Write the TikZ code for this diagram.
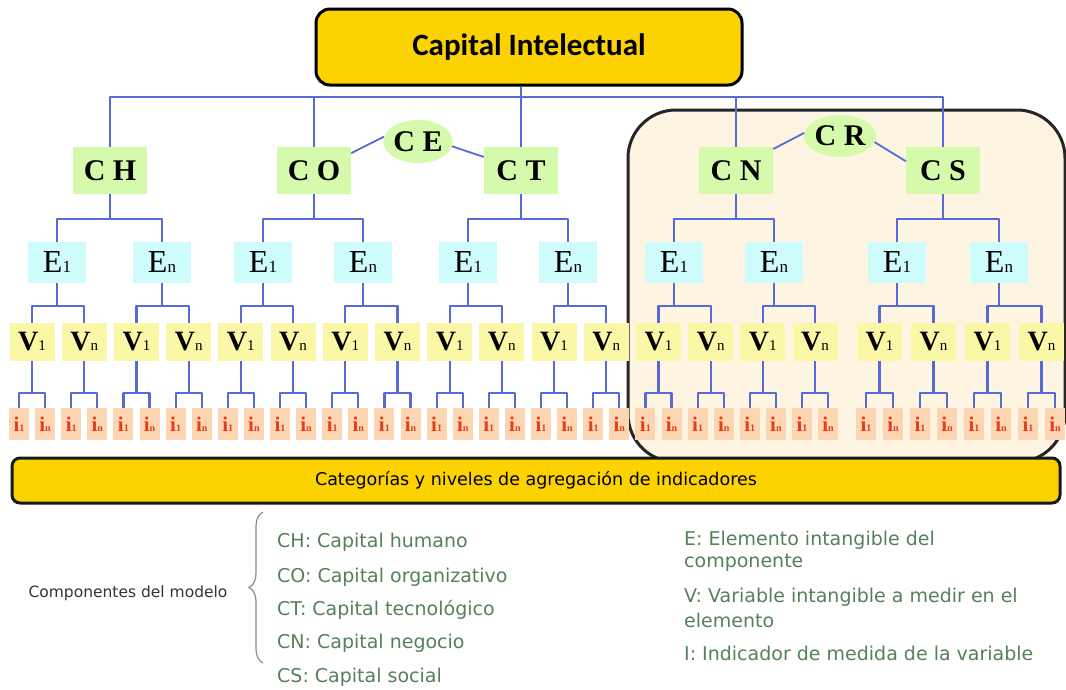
\documentclass[tikz,border=0pt]{standalone}
\usepackage{fontspec}
\setmainfont{Liberation Serif}
\newfontfamily\calfont{Carlito}
\newfontfamily\dvfont{DejaVu Sans}
\usetikzlibrary{shapes.geometric,decorations.pathreplacing,calc}
\definecolor{gold}{RGB}{252,210,0}
\definecolor{compgreen}{RGB}{213,250,172}
\definecolor{ecyan}{RGB}{206,252,252}
\definecolor{vyellow}{RGB}{250,248,166}
\definecolor{ipeach}{RGB}{252,214,178}
\definecolor{ired}{RGB}{232,60,30}
\definecolor{lineblue}{RGB}{88,106,214}
\definecolor{cream}{RGB}{253,245,226}
\definecolor{leggreen}{RGB}{84,128,90}
\newcommand{\mysubE}[1]{{\fontsize{17}{17}\selectfont\mdseries #1}}
\newcommand{\mysubV}[1]{{\fontsize{15}{15}\selectfont\mdseries #1}}
\newcommand{\mysubI}[1]{{\fontsize{10}{10}\selectfont #1}}
\begin{document}
\begin{tikzpicture}[x=1pt,y=-1pt,
  conn/.style={draw=lineblue,line width=2.2pt,line join=round},
  topbox/.style={draw=black,line width=3pt,fill=gold,rounded corners=14pt,minimum width=426pt,minimum height=76pt,inner sep=0pt,font=\calfont\bfseries\fontsize{31}{31}\selectfont},
  barbox/.style={draw=black!90,line width=3pt,fill=gold,rounded corners=8pt,minimum width=1048pt,minimum height=45pt,inner sep=0pt,font=\dvfont\fontsize{17.5}{17.5}\selectfont},
  compbox/.style={fill=compgreen,minimum width=74pt,minimum height=47pt,inner sep=0pt,font=\fontsize{30}{30}\selectfont\bfseries},
  ellnode/.style={ellipse,fill=compgreen,minimum width=63pt,minimum height=43pt,inner sep=0pt,font=\fontsize{30}{30}\selectfont\bfseries},
  ebox/.style={fill=ecyan,minimum width=58pt,minimum height=41pt,inner sep=0pt,font=\fontsize{32}{32}\selectfont},
  vbox/.style={fill=vyellow,minimum width=45pt,minimum height=38pt,inner sep=0pt,font=\fontsize{28}{28}\selectfont\bfseries},
  ibox/.style={fill=ipeach,minimum width=20pt,minimum height=32pt,inner sep=0pt,text=ired,font=\fontsize{21}{21}\selectfont\bfseries},
  legtext/.style={anchor=west,inner sep=0pt,text=leggreen,font=\dvfont\fontsize{19}{19}\selectfont}
]
\useasboundingbox (0,0) rectangle (1066,689);
% highlighted group
\draw[line width=3pt,draw=black!85,fill=cream,rounded corners=48pt] (628,110) rectangle (1065,462);

% top
\node[topbox] (top) at (529,47) {Capital Intelectual};

% components
\node[compbox] (CH) at (110,170.5) {C H};
\node[compbox] (CO) at (314,170.5) {C O};
\node[compbox] (CT) at (521,170.5) {C T};
\node[compbox] (CN) at (736,170.5) {C N};
\node[compbox] (CS) at (943,170.5) {C S};
\node[ellnode] (CE) at (418,141.5) {C E};
\node[ellnode,minimum width=67pt,minimum height=42pt] (CR) at (840,136) {C R};

% indicators
\foreach \k in {0,...,39}{
  \ifnum\k<32
    \pgfmathsetmacro{\ix}{19+26.1*\k}
  \else
    \pgfmathsetmacro{\ix}{866+27*(\k-32)}
  \fi
  \ifodd\k
    \node[ibox] (i\k) at (\ix,424) {i\mysubI{n}};
  \else
    \node[ibox] (i\k) at (\ix,424) {i\mysubI{1}};
  \fi
}
% variables
\foreach \j in {0,...,19}{
  \ifnum\j<16
    \pgfmathsetmacro{\vx}{32.05+52.2*\j}
  \else
    \pgfmathsetmacro{\vx}{879.5+54*(\j-16)}
  \fi
  \pgfmathtruncatemacro{\ia}{2*\j}
  \pgfmathtruncatemacro{\ib}{2*\j+1}
  \ifodd\j
    \node[vbox] (V\j) at (\vx,342) {V\mysubV{n}};
  \else
    \node[vbox] (V\j) at (\vx,342) {V\mysubV{1}};
  \fi
  \draw[conn] (V\j.south) -- ++(0,32) coordinate (vb\j);
  \draw[conn] (i\ia.north) |- (vb\j) -| (i\ib.north);
}
% elements
\foreach \m/\ex in {0/57,1/162,2/263,3/363,4/468,5/568,6/674,7/774,8/897,9/999}{
  \pgfmathtruncatemacro{\va}{2*\m}
  \pgfmathtruncatemacro{\vb}{2*\m+1}
  \ifodd\m
    \node[ebox] (E\m) at (\ex,262.5) {E\mysubE{n}};
  \else
    \node[ebox] (E\m) at (\ex,262.5) {E\mysubE{1}};
  \fi
  \draw[conn] (E\m.south) -- ++(0,23) coordinate (eb\m);
  \draw[conn] (V\va.north) |- (eb\m) -| (V\vb.north);
}
% component to elements
\foreach \c/\ea/\eb in {CH/0/1,CO/2/3,CT/4/5,CN/6/7,CS/8/9}{
  \draw[conn] (\c.south) -- ++(0,25) coordinate (cb\c);
  \draw[conn] (E\ea.north) |- (cb\c) -| (E\eb.north);
}
% bus
\draw[conn] (top.south -| CT.north) -- (CT.north);
\draw[conn] (CH.north) -- (CH.north |- 0,97) -- (CS.north |- 0,97) -- (CS.north);
\draw[conn] (CO.north) -- (CO.north |- 0,97);
\draw[conn] (CN.north) -- (CN.north |- 0,97);
% cross links
\draw[conn,line width=1.8pt] (CO.25) -- (CE.172);
\draw[conn,line width=1.8pt] (CE.-8) -- (CT.160);
\draw[conn,line width=1.8pt] (CN.30) -- (CR.175);
\draw[conn,line width=1.8pt] (CR.-10) -- (CS.166);

% bottom bar
\node[barbox] (bar) at (536,480.5) {Categorías y niveles de agregación de indicadores};

% legend
\node[inner sep=0pt,text=black!80,font=\dvfont\fontsize{15.5}{15.5}\selectfont] (comp) at (128,593) {Componentes del modelo};
\draw[decorate,decoration={brace,amplitude=14pt},draw=black!45,line width=1.2pt] (263,663) -- (263,512);
\node[legtext] (lCH) at (277,542) {CH: Capital humano};
\node[legtext] (lCO) at (277,577) {CO: Capital organizativo};
\node[legtext] (lCT) at (277,610) {CT: Capital tecnológico};
\node[legtext] (lCN) at (277,643) {CN: Capital negocio};
\node[legtext] (lCS) at (277,677) {CS: Capital social};
\node[legtext] (lE1) at (684,540) {E: Elemento intangible del};
\node[legtext] (lE2) at (684,563) {componente};
\node[legtext] (lV1) at (684,597) {V: Variable intangible a medir en el};
\node[legtext] (lV2) at (684,620) {elemento};
\node[legtext] (lI) at (684,653) {I: Indicador de medida de la variable};
\end{tikzpicture}
\end{document}
